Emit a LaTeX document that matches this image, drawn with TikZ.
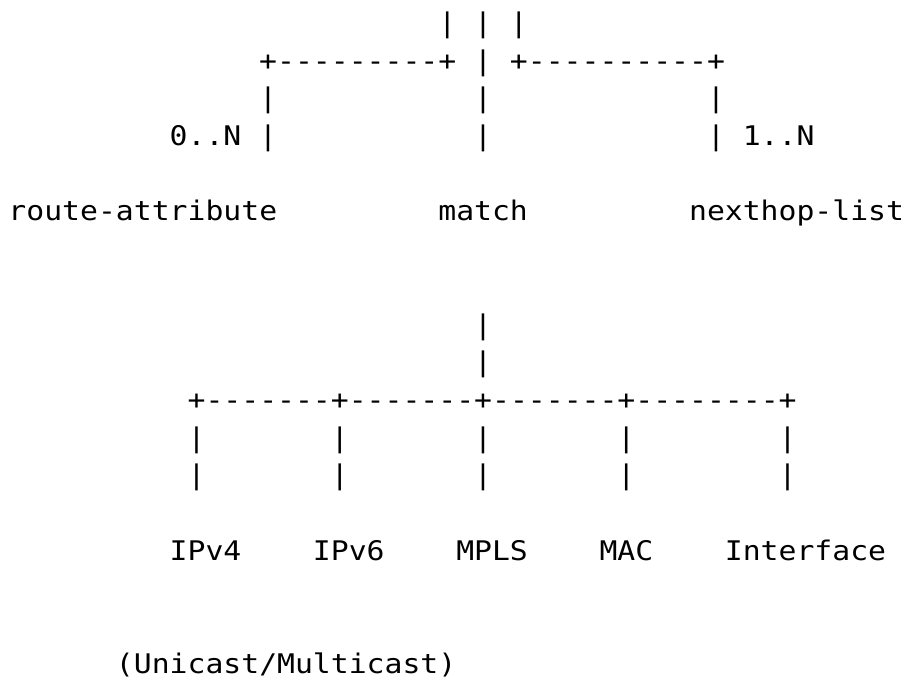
\documentclass[tikz,border=0pt]{standalone}
\usepackage{fontspec}
\newfontfamily\asciimono[FakeStretch=1.102,Ligatures=TeXOff]{DejaVu Sans Mono}
\newcommand\colx[1]{8.5+#1*17.91}
\newcommand\rowy[1]{-(145.5+(#1-3)*37.72)}
\begin{document}
\begin{tikzpicture}[x=1pt,y=1pt,
  tk/.style={anchor=base west,inner sep=0pt,outer sep=0pt,font=\asciimono\fontsize{27}{27}\selectfont,text=black}]
\fill[white] (0,0) rectangle (912,-680);
\useasboundingbox (0,0) rectangle (912,-680);
% row 0
\node[tk] (r0a) at ({\colx{24}},{\rowy{0}}) {|};
\node[tk] (r0b) at ({\colx{26}},{\rowy{0}}) {|};
\node[tk] (r0c) at ({\colx{28}},{\rowy{0}}) {|};
% row 1
\node[tk] (r1a) at ({\colx{14}},{\rowy{1}}) {+---------+};
\node[tk] (r1b) at ({\colx{26}},{\rowy{1}}) {|};
\node[tk] (r1c) at ({\colx{28}},{\rowy{1}}) {+----------+};
% row 2
\node[tk] (r2a) at ({\colx{14}},{\rowy{2}}) {|};
\node[tk] (r2b) at ({\colx{26}},{\rowy{2}}) {|};
\node[tk] (r2c) at ({\colx{39}},{\rowy{2}}) {|};
% row 3
\node[tk] (card0) at ({\colx{9}},{\rowy{3}}) {0..N};
\node[tk] (r3a) at ({\colx{14}},{\rowy{3}}) {|};
\node[tk] (r3b) at ({\colx{26}},{\rowy{3}}) {|};
\node[tk] (r3c) at ({\colx{39}},{\rowy{3}}) {|};
\node[tk] (card1) at ({\colx{41}},{\rowy{3}}) {1..N};
% row 5
\node[tk] (ra) at ({\colx{0}},{\rowy{5}}) {route-attribute};
\node[tk] (match) at ({\colx{24}},{\rowy{5}}) {match};
\node[tk] (nhl) at ({\colx{38}},{\rowy{5}}) {nexthop-list};
% rows 8-9
\node[tk] (r8) at ({\colx{26}},{\rowy{8}}) {|};
\node[tk] (r9) at ({\colx{26}},{\rowy{9}}) {|};
% row 10
\node[tk] (r10) at ({\colx{10}},{\rowy{10}}) {+-------+-------+-------+--------+};
% rows 11-12
\foreach \r in {11,12}{
  \foreach \c/\n in {10/a,18/b,26/c,34/d,43/e}{
    \node[tk] (r\r\n) at ({\colx{\c}},{\rowy{\r}}) {|};
  }
}
% row 14
\node[tk] (ipv4) at ({\colx{9}},{\rowy{14}}) {IPv4};
\node[tk] (ipv6) at ({\colx{17}},{\rowy{14}}) {IPv6};
\node[tk] (mpls) at ({\colx{25}},{\rowy{14}}) {MPLS};
\node[tk] (mac) at ({\colx{33}},{\rowy{14}}) {MAC};
\node[tk] (intf) at ({\colx{40}},{\rowy{14}}) {Interface};
% row 17
\node[tk] (uni) at ({\colx{6}},{\rowy{17}}) {(Unicast/Multicast)};
\end{tikzpicture}
\end{document}
